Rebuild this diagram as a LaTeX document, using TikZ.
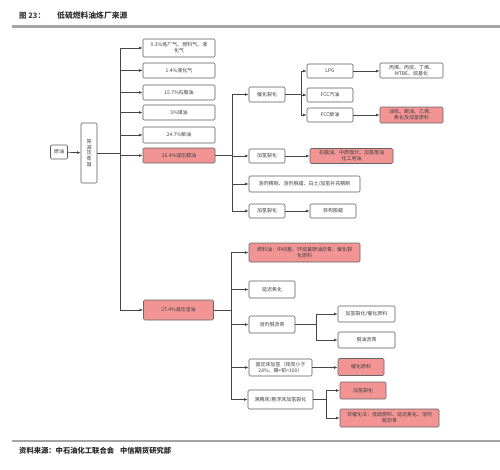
\documentclass[tikz,border=0pt]{standalone}
\usepackage{fontspec}
\setmainfont{Noto Sans CJK SC}
\usetikzlibrary{arrows.meta}
\definecolor{ln}{RGB}{70,70,70}
\definecolor{bd}{RGB}{90,90,90}
\definecolor{pk}{RGB}{242,148,148}
\definecolor{rule}{RGB}{165,165,165}
\tikzset{
  bx/.style={draw=bd, line width=0.6pt, rounded corners=1.3pt, fill=white, inner sep=0.8pt,
    font=\fontsize{5}{5.9}\selectfont, align=center, text=black!75},
  pbx/.style={bx, fill=pk, draw=black!60},
  wh/.style n args={2}{minimum width=#1, minimum height=#2, text width=#1-5},
  ln/.style={draw=ln, line width=0.7pt},
  arr/.style={ln, -{Latex[length=3.6pt,width=2.8pt]}},
}
\begin{document}
\begin{tikzpicture}[x=1pt,y=-1pt]
\useasboundingbox (0,0) rectangle (500,469);
% title and rules
\node[anchor=west, font=\fontsize{7.5}{8}\selectfont\bfseries, text=black!75, inner sep=0] (ttl1) at (19,16) {图 23：};
\node[anchor=west, font=\fontsize{7.8}{8}\selectfont\bfseries, text=black!80, inner sep=0] (ttl2) at (57,16) {低硫燃料油炼厂来源};
\fill[rule] (12,25) rectangle (500,27.5);
\fill[rule] (12,439.5) rectangle (500,442);
\node[anchor=west, font=\fontsize{7.3}{8}\selectfont\bfseries, text=black!85, inner sep=0] (src) at (19,451) {资料来源：中石油化工联合会\hspace{6pt}中信期货研究部};

% left
\node[bx, wh={17}{14}] (yy) at (59,152) {原油};
\node[bx, minimum width=16, minimum height=60, text width=6] (zj) at (89,153) {常\\减\\压\\蒸\\馏};
\draw[arr] (yy) -- (zj);

% column 1
\node[bx, wh={72}{18}] (n1) at (179,48) {0.3\%炼厂气、燃料气、液\\化气};
\node[bx, wh={72}{15}] (n2) at (179,70.5) {1.4\%液化气};
\node[bx, wh={72}{15}] (n3) at (179,92.5) {15.7\%石脑油};
\node[bx, wh={72}{15}] (n4) at (179,112.5) {5\%煤油};
\node[bx, wh={72}{16}] (n5) at (179,135) {24.7\%柴油};
\node[pbx, wh={72}{15}] (n6) at (179,155.5) {25.4\%减压蜡油};
\node[pbx, wh={70}{20}] (n7) at (178.5,310) {27.4\%减压渣油};

\coordinate (b1) at (120,153);
\draw[ln] (zj.east) -- (b1);
\draw[ln] (b1 |- n1.west) -- (b1 |- n7.west);
\foreach \n in {n1,n2,n3,n4,n5,n6,n7} \draw[arr] (b1 |- \n.west) -- (\n.west);

% wax oil branch
\node[bx, wh={36}{15}] (m1) at (267,94.5) {催化裂化};
\node[bx, wh={36}{14}] (m2) at (267,156) {加氢裂化};
\node[bx, wh={111}{16}] (m3) at (304.5,184) {溶剂精制、溶剂脱蜡、白土/加氢补充精制};
\node[bx, wh={36}{14}] (m4) at (267,211) {加氢裂化};
\node[bx, wh={46}{14}] (m5) at (333,211) {异构脱蜡};
\node[pbx, wh={83}{15}] (m6) at (351.5,156) {石脑油、中质馏分、加氢尾油\\化工用油};

\coordinate (b2) at (232,155.5);
\draw[ln] (n6.east) -- (b2);
\draw[ln] (b2 |- m1.west) -- (b2 |- m4.west);
\foreach \n in {m1,m2,m3,m4} \draw[arr] (b2 |- \n.west) -- (\n.west);
\draw[arr] (m2) -- (m6);
\draw[arr] (m4) -- (m5);

% FCC branch
\node[bx, wh={46}{14}] (f1) at (330,71) {LPG};
\node[bx, wh={46}{14}] (f2) at (330,95) {FCC汽油};
\node[bx, wh={46}{14}] (f3) at (330,115) {FCC柴油};
\node[bx, wh={63}{15}] (p1) at (411.5,70.5) {丙烯、丙烷、丁烯、\\MTBE、烷基化};
\node[pbx, wh={63}{16}] (p2) at (411.5,115) {油浆、柴油、乙烯、\\焦化及加氢原料};

\coordinate (b3) at (301,94.5);
\draw[ln] (m1.east) -- (b3);
\draw[ln] (b3 |- f1.west) -- (b3 |- f3.west);
\foreach \n in {f1,f2,f3} \draw[arr] (b3 |- \n.west) -- (\n.west);
\draw[arr] (f1.east) -- (p1.west |- f1.east);
\draw[arr] (f3.east) -- (p2.west |- f3.east);

% residue branch
\node[pbx, wh={111}{19}] (r1) at (304.5,252.5) {燃料油：中间基、环烷基原油沥青、催化裂\\化原料};
\node[bx, wh={46}{17}] (r2) at (272,289.5) {延迟焦化};
\node[bx, wh={46}{17}] (r3) at (272,324.5) {溶剂脱沥青};
\node[bx, wh={63}{17}] (r4) at (280.5,367.5) {固定床加氢（残炭小于\\28\%，镍+钒<100）};
\node[bx, wh={65}{19}] (r5) at (280.5,399.5) {沸腾床/悬浮床加氢裂化};

\coordinate (b4) at (231,310);
\draw[ln] (n7.east) -- (b4);
\draw[ln] (b4 |- r1.west) -- (b4 |- r5.west);
\foreach \n in {r1,r2,r3,r4,r5} \draw[arr] (b4 |- \n.west) -- (\n.west);

\node[bx, wh={57}{16}] (s1) at (366.5,314) {加氢裂化/催化原料};
\node[bx, wh={57}{16}] (s2) at (366.5,340) {脱油沥青};
\node[pbx, wh={46}{17}] (s3) at (361,367) {催化原料};
\node[pbx, wh={46}{17}] (s4) at (363,390.5) {加氢裂化};
\node[pbx, wh={99}{18}] (s5) at (389.5,418) {非催化法：低硫燃料、延迟焦化、溶剂\\脱沥青};

\coordinate (b5) at (316,324.5);
\draw[ln] (r3.east) -- (b5);
\draw[ln] (b5 |- s1.west) -- (b5 |- s2.west);
\foreach \n in {s1,s2} \draw[arr] (b5 |- \n.west) -- (\n.west);
\draw[arr] (r4.east) -- (s3.west |- r4.east);

\coordinate (b6) at (326,399.5);
\draw[ln] (r5.east) -- (b6);
\draw[ln] (b6 |- s4.west) -- (b6 |- s5.west);
\foreach \n in {s4,s5} \draw[arr] (b6 |- \n.west) -- (\n.west);
\end{tikzpicture}
\end{document}
